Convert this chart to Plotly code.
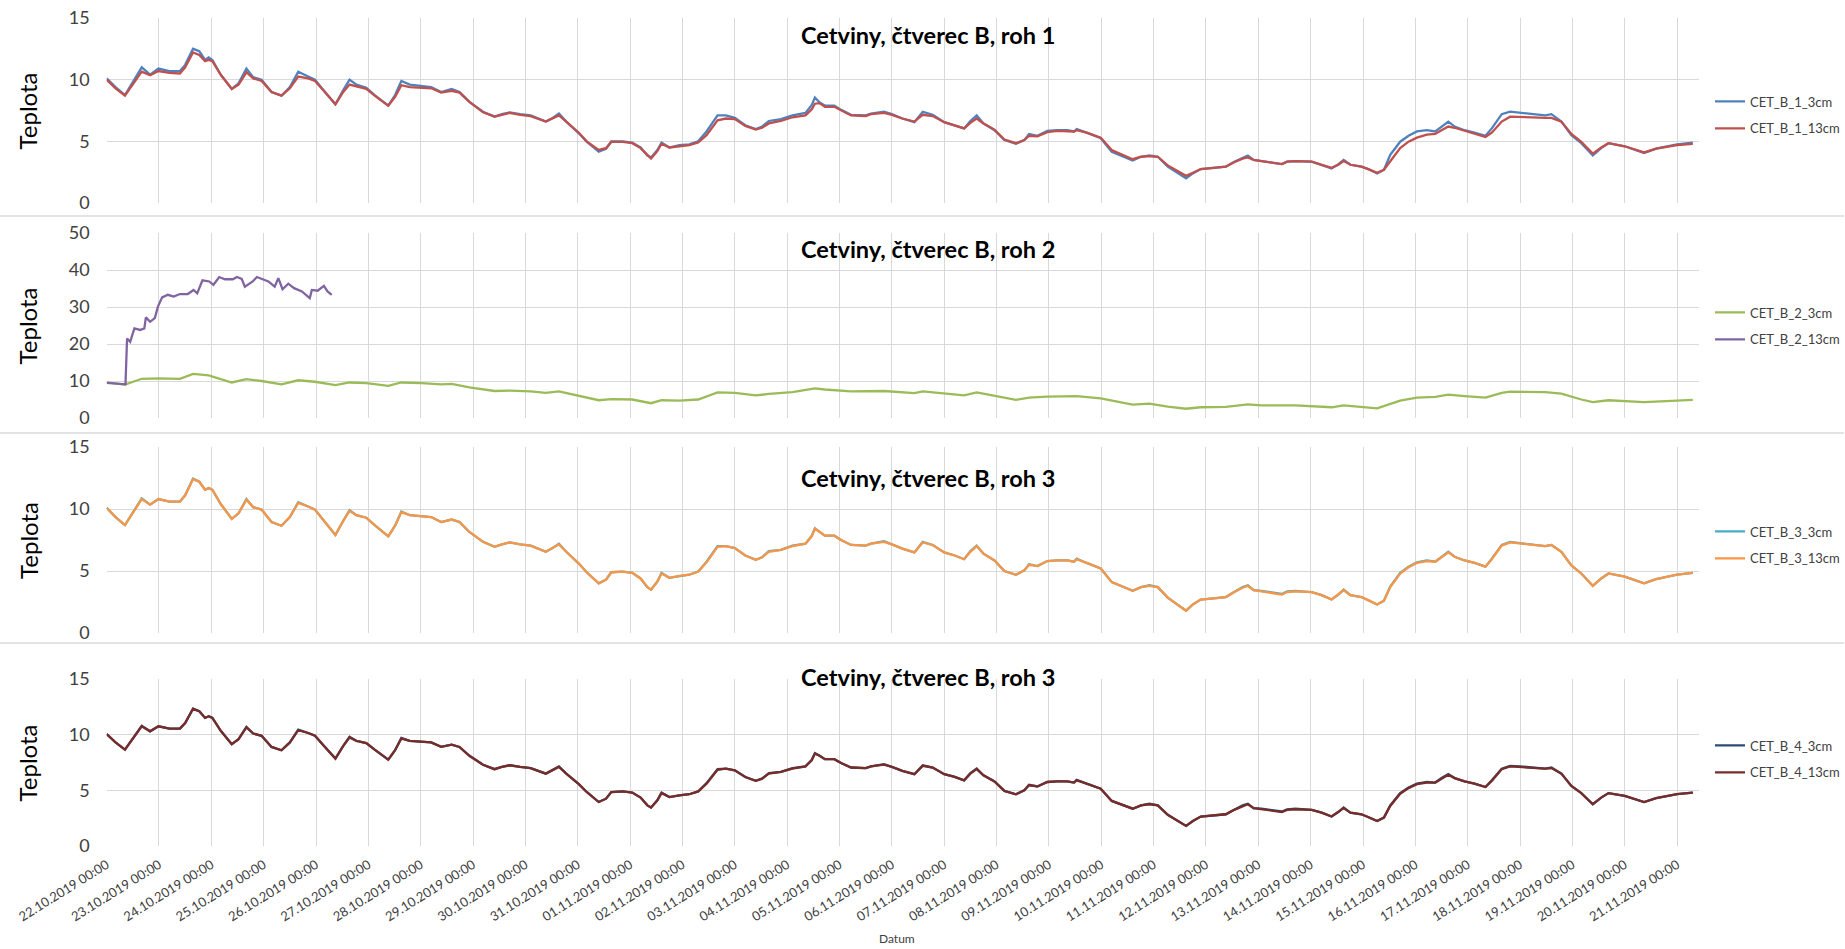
import pandas as pd
import plotly.graph_objects as go

START = "2019-10-22 00:00"
END_DAY = 30.42

# (day offset from 22.10.2019 00:00, temperature)
CET_B_1_3cm = [(0.00,10.1),(0.17,9.4),(0.35,8.75),(0.50,9.8),(0.67,11.0),(0.83,10.4),(0.99,10.9),(1.20,10.7),(1.40,10.7),(1.50,11.2),
 (1.65,12.5),(1.77,12.3),(1.88,11.6),(1.95,11.8),(2.02,11.6),(2.18,10.4),(2.39,9.25),(2.52,9.7),(2.67,10.9),(2.80,10.2),
 (2.96,10.0),(3.15,9.0),(3.34,8.7),(3.50,9.4),(3.66,10.65),(3.85,10.25),(3.98,10.0),(4.17,9.0),(4.37,8.0),(4.52,9.15),
 (4.64,10.0),(4.77,9.6),(4.96,9.35),(5.12,8.75),(5.38,7.9),(5.51,8.75),(5.63,9.9),(5.79,9.6),(6.01,9.5),(6.20,9.4),
 (6.39,9.0),(6.59,9.25),(6.74,9.0),(6.84,8.6),(6.93,8.2),(7.19,7.4),(7.41,7.0),(7.55,7.2),(7.70,7.35),(7.90,7.2),
 (8.10,7.1),(8.39,6.6),(8.52,6.9),(8.64,7.25),(8.78,6.6),(9.02,5.65),(9.17,4.97),(9.40,4.16),(9.54,4.4),(9.64,5.0),
 (9.86,5.0),(10.04,4.9),(10.20,4.5),(10.33,3.85),(10.40,3.7),(10.52,4.3),(10.60,4.9),(10.75,4.5),(10.94,4.7),(11.13,4.75),
 (11.30,5.0),(11.46,5.8),(11.67,7.1),(11.83,7.1),(12.00,6.9),(12.20,6.3),(12.40,6.0),(12.52,6.2),(12.65,6.65),(12.88,6.8),
 (13.10,7.1),(13.35,7.3),(13.47,7.95),(13.53,8.55),(13.62,8.15),(13.72,7.9),(13.90,7.9),(14.03,7.55),(14.22,7.15),(14.50,7.1),
 (14.60,7.25),(14.85,7.4),(15.00,7.2),(15.20,6.85),(15.43,6.55),(15.59,7.4),(15.78,7.15),(16.00,6.55),(16.20,6.3),(16.38,6.05),
 (16.50,6.65),(16.62,7.1),(16.75,6.45),(16.96,5.9),(17.15,5.1),(17.37,4.8),(17.53,5.1),(17.62,5.6),(17.78,5.45),(17.97,5.85),
 (18.16,5.9),(18.35,5.9),(18.48,5.8),(18.53,6.0),(18.72,5.7),(18.99,5.25),(19.20,4.15),(19.60,3.45),(19.76,3.75),(19.92,3.85),
 (20.08,3.75),(20.27,2.95),(20.62,2.0),(20.75,2.4),(20.90,2.75),(21.15,2.85),(21.38,2.95),(21.54,3.35),(21.70,3.7),(21.80,3.85),
 (21.91,3.5),(22.06,3.4),(22.25,3.25),(22.45,3.15),(22.55,3.35),(22.71,3.4),(23.02,3.35),(23.21,3.1),(23.40,2.8),(23.53,3.15),
 (23.63,3.5),(23.76,3.1),(23.97,2.95),(24.10,2.75),(24.27,2.4),(24.40,2.7),(24.52,3.9),(24.71,4.97),(24.87,5.45),(25.03,5.8),
 (25.22,5.9),(25.38,5.8),(25.50,6.2),(25.63,6.6),(25.75,6.2),(25.94,5.9),(26.13,5.7),(26.34,5.45),(26.46,6.05),(26.65,7.2),
 (26.81,7.4),(27.00,7.3),(27.23,7.2),(27.48,7.1),(27.60,7.2),(27.79,6.6),(27.98,5.5),(28.17,4.85),(28.39,3.85),(28.55,4.45),
 (28.69,4.85),(29.00,4.6),(29.37,4.05),(29.60,4.4),(30.00,4.75),(30.30,4.9)]

CET_B_1_13cm = [(0.00,10.0),(0.17,9.3),(0.35,8.7),(0.50,9.6),(0.67,10.65),(0.83,10.35),(0.99,10.7),(1.20,10.55),(1.40,10.5),(1.50,11.0),
 (1.65,12.2),(1.77,12.0),(1.88,11.5),(1.95,11.6),(2.02,11.5),(2.18,10.4),(2.39,9.25),(2.52,9.6),(2.67,10.6),(2.80,10.1),
 (2.96,9.9),(3.15,9.0),(3.34,8.7),(3.50,9.3),(3.66,10.25),(3.85,10.1),(3.98,9.9),(4.17,9.0),(4.37,8.0),(4.52,9.0),
 (4.64,9.6),(4.77,9.45),(4.96,9.25),(5.12,8.7),(5.38,7.9),(5.51,8.6),(5.63,9.55),(5.79,9.4),(6.01,9.35),(6.20,9.3),
 (6.39,8.95),(6.59,9.1),(6.74,8.95),(6.84,8.55),(6.93,8.2),(7.19,7.35),(7.41,7.0),(7.55,7.15),(7.70,7.3),(7.90,7.15),
 (8.10,7.05),(8.39,6.6),(8.52,6.85),(8.64,7.1),(8.78,6.6),(9.02,5.7),(9.17,5.0),(9.40,4.3),(9.54,4.45),(9.64,4.95),
 (9.86,4.95),(10.04,4.85),(10.20,4.45),(10.33,3.85),(10.40,3.6),(10.52,4.2),(10.60,4.8),(10.75,4.5),(10.94,4.6),(11.13,4.7),
 (11.30,4.9),(11.46,5.5),(11.67,6.7),(11.83,6.85),(12.00,6.8),(12.20,6.25),(12.40,5.95),(12.52,6.1),(12.65,6.45),(12.88,6.65),
 (13.10,6.95),(13.35,7.1),(13.47,7.6),(13.53,8.05),(13.62,8.1),(13.72,7.8),(13.90,7.8),(14.03,7.5),(14.22,7.1),(14.50,7.05),
 (14.60,7.2),(14.85,7.3),(15.00,7.15),(15.20,6.85),(15.43,6.6),(15.59,7.15),(15.78,7.05),(16.00,6.55),(16.20,6.3),(16.38,6.05),
 (16.50,6.5),(16.62,6.85),(16.75,6.45),(16.96,5.95),(17.15,5.15),(17.37,4.85),(17.53,5.1),(17.62,5.45),(17.78,5.4),(17.97,5.75),
 (18.16,5.85),(18.35,5.85),(18.48,5.8),(18.53,5.9),(18.72,5.7),(18.99,5.3),(19.20,4.3),(19.60,3.55),(19.76,3.75),(19.92,3.8),
 (20.08,3.75),(20.27,3.05),(20.62,2.2),(20.75,2.45),(20.90,2.75),(21.15,2.85),(21.38,2.95),(21.54,3.3),(21.70,3.6),(21.80,3.7),
 (21.91,3.5),(22.06,3.4),(22.25,3.25),(22.45,3.15),(22.55,3.35),(22.71,3.4),(23.02,3.35),(23.21,3.1),(23.40,2.85),(23.53,3.1),
 (23.63,3.4),(23.76,3.1),(23.97,2.95),(24.10,2.75),(24.27,2.45),(24.40,2.7),(24.52,3.35),(24.71,4.45),(24.87,4.97),(25.03,5.3),
 (25.22,5.55),(25.38,5.6),(25.50,5.9),(25.63,6.2),(25.75,6.1),(25.94,5.85),(26.13,5.65),(26.34,5.35),(26.46,5.7),(26.65,6.6),
 (26.81,7.0),(27.00,7.0),(27.23,6.95),(27.48,6.9),(27.60,6.9),(27.79,6.6),(27.98,5.6),(28.17,4.95),(28.39,4.0),(28.55,4.5),
 (28.69,4.85),(29.00,4.6),(29.37,4.1),(29.60,4.4),(30.00,4.7),(30.30,4.8)]

CET_B_2_3cm = [(0.00,9.6),(0.35,9.0),(0.67,10.6),(0.99,10.7),(1.40,10.6),(1.65,11.9),(1.95,11.5),(2.39,9.6),(2.67,10.5),(2.96,10.0),
 (3.34,9.1),(3.66,10.2),(3.98,9.8),(4.37,8.9),(4.64,9.6),(4.96,9.4),(5.38,8.7),(5.63,9.6),(6.01,9.4),(6.39,9.1),
 (6.59,9.2),(6.93,8.3),(7.41,7.3),(7.70,7.4),(8.10,7.2),(8.39,6.8),(8.64,7.2),(9.02,6.0),(9.40,4.8),(9.64,5.1),
 (10.04,5.0),(10.40,4.0),(10.60,4.8),(10.94,4.7),(11.30,5.0),(11.67,6.9),(12.00,6.8),(12.40,6.1),(12.65,6.5),(13.10,7.0),
 (13.53,8.0),(13.72,7.7),(14.22,7.2),(14.85,7.3),(15.43,6.7),(15.59,7.2),(16.00,6.6),(16.38,6.1),(16.62,6.9),(16.96,6.0),
 (17.37,4.9),(17.62,5.5),(17.97,5.8),(18.53,5.9),(18.99,5.3),(19.60,3.6),(19.92,3.9),(20.27,3.1),(20.62,2.5),(20.90,2.9),
 (21.38,3.0),(21.80,3.7),(22.06,3.4),(22.71,3.4),(23.40,2.9),(23.63,3.4),(23.97,3.0),(24.27,2.6),(24.71,4.7),(25.03,5.5),
 (25.38,5.7),(25.63,6.3),(25.94,5.9),(26.34,5.5),(26.65,6.8),(26.81,7.1),(27.48,7.0),(27.79,6.6),(28.17,5.0),(28.39,4.3),
 (28.69,4.8),(29.37,4.3),(30.00,4.7),(30.30,4.9)]

CET_B_2_13cm = [(0.00,9.5),(0.36,9.1),(0.39,21.5),(0.45,20.6),(0.53,24.2),(0.64,23.8),(0.72,24.2),(0.75,27.2),(0.83,26.0),(0.92,27.0),
 (0.98,30.1),(1.06,32.6),(1.17,33.3),(1.28,32.8),(1.40,33.5),(1.55,33.5),(1.66,34.6),(1.73,33.7),(1.83,37.2),(1.96,36.9),
 (2.04,36.0),(2.15,38.1),(2.26,37.5),(2.41,37.5),(2.49,38.1),(2.58,37.6),(2.64,35.5),(2.79,36.9),(2.87,38.1),(2.98,37.5),
 (3.09,36.9),(3.21,35.5),(3.28,37.8),(3.36,34.8),(3.47,36.3),(3.58,35.1),(3.73,34.2),(3.88,32.4),(3.92,34.6),(4.03,34.4),
 (4.15,35.7),(4.22,34.2),(4.30,33.3)]

CET_B_3_3cm = [(0.00,10.1),(0.17,9.35),(0.35,8.7),(0.50,9.7),(0.67,10.85),(0.83,10.35),(0.99,10.8),(1.20,10.6),(1.40,10.6),(1.50,11.1),
 (1.65,12.45),(1.77,12.2),(1.88,11.55),(1.95,11.7),(2.02,11.55),(2.18,10.4),(2.39,9.2),(2.52,9.65),(2.67,10.8),(2.80,10.15),
 (2.96,9.95),(3.15,8.95),(3.34,8.65),(3.50,9.35),(3.66,10.55),(3.85,10.2),(3.98,9.95),(4.17,8.95),(4.37,7.9),(4.52,9.05),
 (4.64,9.9),(4.77,9.5),(4.96,9.3),(5.12,8.7),(5.38,7.8),(5.51,8.65),(5.63,9.8),(5.79,9.5),(6.01,9.4),(6.20,9.35),
 (6.39,8.95),(6.59,9.15),(6.74,8.95),(6.84,8.55),(6.93,8.15),(7.19,7.35),(7.41,6.95),(7.55,7.15),(7.70,7.3),(7.90,7.15),
 (8.10,7.05),(8.39,6.55),(8.52,6.85),(8.64,7.2),(8.78,6.55),(9.02,5.6),(9.17,4.9),(9.40,4.0),(9.54,4.3),(9.64,4.9),
 (9.86,4.95),(10.04,4.85),(10.20,4.4),(10.33,3.7),(10.40,3.5),(10.52,4.15),(10.60,4.85),(10.75,4.45),(10.94,4.6),(11.13,4.7),
 (11.30,4.95),(11.46,5.75),(11.67,7.0),(11.83,7.0),(12.00,6.85),(12.20,6.25),(12.40,5.9),(12.52,6.1),(12.65,6.6),(12.88,6.7),
 (13.10,7.05),(13.35,7.2),(13.47,7.85),(13.53,8.45),(13.62,8.15),(13.72,7.85),(13.90,7.85),(14.03,7.5),(14.22,7.1),(14.50,7.05),
 (14.60,7.2),(14.85,7.4),(15.00,7.15),(15.20,6.8),(15.43,6.5),(15.59,7.35),(15.78,7.1),(16.00,6.5),(16.20,6.25),(16.38,5.95),
 (16.50,6.6),(16.62,7.05),(16.75,6.4),(16.96,5.85),(17.15,5.0),(17.37,4.7),(17.53,5.05),(17.62,5.55),(17.78,5.4),(17.97,5.8),
 (18.16,5.85),(18.35,5.85),(18.48,5.75),(18.53,6.0),(18.72,5.65),(18.99,5.2),(19.20,4.1),(19.60,3.4),(19.76,3.7),(19.92,3.85),
 (20.08,3.7),(20.27,2.85),(20.62,1.8),(20.75,2.3),(20.90,2.7),(21.15,2.8),(21.38,2.9),(21.54,3.3),(21.70,3.7),(21.80,3.85),
 (21.91,3.45),(22.06,3.4),(22.25,3.25),(22.45,3.15),(22.55,3.35),(22.71,3.4),(23.02,3.3),(23.21,3.05),(23.40,2.7),(23.53,3.1),
 (23.63,3.5),(23.76,3.05),(23.97,2.9),(24.10,2.65),(24.27,2.3),(24.40,2.6),(24.52,3.75),(24.71,4.85),(24.87,5.35),(25.03,5.7),
 (25.22,5.85),(25.38,5.75),(25.50,6.15),(25.63,6.55),(25.75,6.15),(25.94,5.85),(26.13,5.65),(26.34,5.35),(26.46,6.0),(26.65,7.1),
 (26.81,7.35),(27.00,7.25),(27.23,7.1),(27.48,7.0),(27.60,7.1),(27.79,6.55),(27.98,5.45),(28.17,4.8),(28.39,3.8),(28.55,4.4),
 (28.69,4.8),(29.00,4.55),(29.37,4.0),(29.60,4.35),(30.00,4.7),(30.30,4.85)]

CET_B_3_13cm = [(0.00,10.1),(0.17,9.35),(0.35,8.7),(0.50,9.7),(0.67,10.8),(0.83,10.35),(0.99,10.8),(1.20,10.6),(1.40,10.6),(1.50,11.1),
 (1.65,12.4),(1.77,12.2),(1.88,11.55),(1.95,11.7),(2.02,11.55),(2.18,10.4),(2.39,9.2),(2.52,9.65),(2.67,10.75),(2.80,10.15),
 (2.96,9.95),(3.15,8.95),(3.34,8.65),(3.50,9.35),(3.66,10.5),(3.85,10.2),(3.98,9.95),(4.17,8.95),(4.37,7.9),(4.52,9.05),
 (4.64,9.85),(4.77,9.5),(4.96,9.3),(5.12,8.7),(5.38,7.8),(5.51,8.65),(5.63,9.75),(5.79,9.5),(6.01,9.4),(6.20,9.35),
 (6.39,8.95),(6.59,9.15),(6.74,8.95),(6.84,8.55),(6.93,8.15),(7.19,7.35),(7.41,6.95),(7.55,7.15),(7.70,7.3),(7.90,7.15),
 (8.10,7.05),(8.39,6.55),(8.52,6.85),(8.64,7.15),(8.78,6.55),(9.02,5.6),(9.17,4.9),(9.40,4.0),(9.54,4.3),(9.64,4.9),
 (9.86,4.95),(10.04,4.85),(10.20,4.4),(10.33,3.7),(10.40,3.5),(10.52,4.15),(10.60,4.8),(10.75,4.45),(10.94,4.6),(11.13,4.7),
 (11.30,4.95),(11.46,5.7),(11.67,6.95),(11.83,7.0),(12.00,6.85),(12.20,6.25),(12.40,5.9),(12.52,6.1),(12.65,6.55),(12.88,6.7),
 (13.10,7.0),(13.35,7.2),(13.47,7.8),(13.53,8.4),(13.62,8.15),(13.72,7.85),(13.90,7.85),(14.03,7.5),(14.22,7.1),(14.50,7.05),
 (14.60,7.2),(14.85,7.35),(15.00,7.15),(15.20,6.8),(15.43,6.5),(15.59,7.3),(15.78,7.1),(16.00,6.5),(16.20,6.25),(16.38,5.95),
 (16.50,6.55),(16.62,7.0),(16.75,6.4),(16.96,5.85),(17.15,5.0),(17.37,4.7),(17.53,5.05),(17.62,5.5),(17.78,5.4),(17.97,5.8),
 (18.16,5.85),(18.35,5.85),(18.48,5.75),(18.53,5.95),(18.72,5.65),(18.99,5.2),(19.20,4.1),(19.60,3.4),(19.76,3.7),(19.92,3.8),
 (20.08,3.7),(20.27,2.85),(20.62,1.8),(20.75,2.3),(20.90,2.7),(21.15,2.8),(21.38,2.9),(21.54,3.3),(21.70,3.65),(21.80,3.8),
 (21.91,3.45),(22.06,3.35),(22.25,3.2),(22.45,3.1),(22.55,3.3),(22.71,3.35),(23.02,3.3),(23.21,3.05),(23.40,2.7),(23.53,3.1),
 (23.63,3.45),(23.76,3.05),(23.97,2.9),(24.10,2.65),(24.27,2.3),(24.40,2.6),(24.52,3.7),(24.71,4.8),(24.87,5.3),(25.03,5.65),
 (25.22,5.8),(25.38,5.75),(25.50,6.1),(25.63,6.5),(25.75,6.15),(25.94,5.85),(26.13,5.65),(26.34,5.35),(26.46,5.95),(26.65,7.05),
 (26.81,7.3),(27.00,7.2),(27.23,7.1),(27.48,7.0),(27.60,7.1),(27.79,6.55),(27.98,5.45),(28.17,4.8),(28.39,3.8),(28.55,4.4),
 (28.69,4.8),(29.00,4.55),(29.37,4.0),(29.60,4.35),(30.00,4.7),(30.30,4.85)]

CET_B_4_3cm = [(0.00,10.05),(0.17,9.3),(0.35,8.65),(0.50,9.65),(0.67,10.8),(0.83,10.3),(0.99,10.75),(1.20,10.55),(1.40,10.55),(1.50,11.05),
 (1.65,12.35),(1.77,12.1),(1.88,11.5),(1.95,11.65),(2.02,11.5),(2.18,10.35),(2.39,9.15),(2.52,9.6),(2.67,10.7),(2.80,10.1),
 (2.96,9.9),(3.15,8.9),(3.34,8.6),(3.50,9.3),(3.66,10.45),(3.85,10.15),(3.98,9.9),(4.17,8.9),(4.37,7.85),(4.52,9.0),
 (4.64,9.8),(4.77,9.45),(4.96,9.25),(5.12,8.65),(5.38,7.75),(5.51,8.6),(5.63,9.7),(5.79,9.45),(6.01,9.35),(6.20,9.3),
 (6.39,8.9),(6.59,9.1),(6.74,8.9),(6.84,8.5),(6.93,8.1),(7.19,7.3),(7.41,6.9),(7.55,7.1),(7.70,7.25),(7.90,7.1),
 (8.10,7.0),(8.39,6.5),(8.52,6.8),(8.64,7.15),(8.78,6.5),(9.02,5.55),(9.17,4.85),(9.40,3.95),(9.54,4.25),(9.64,4.85),
 (9.86,4.9),(10.04,4.8),(10.20,4.35),(10.33,3.65),(10.40,3.45),(10.52,4.1),(10.60,4.8),(10.75,4.4),(10.94,4.55),(11.13,4.65),
 (11.30,4.9),(11.46,5.65),(11.67,6.9),(11.83,6.95),(12.00,6.8),(12.20,6.2),(12.40,5.85),(12.52,6.05),(12.65,6.55),(12.88,6.65),
 (13.10,7.0),(13.35,7.15),(13.47,7.75),(13.53,8.35),(13.62,8.1),(13.72,7.8),(13.90,7.8),(14.03,7.45),(14.22,7.05),(14.50,7.0),
 (14.60,7.15),(14.85,7.35),(15.00,7.1),(15.20,6.75),(15.43,6.45),(15.59,7.25),(15.78,7.05),(16.00,6.45),(16.20,6.2),(16.38,5.9),
 (16.50,6.55),(16.62,6.95),(16.75,6.35),(16.96,5.8),(17.15,4.95),(17.37,4.65),(17.53,5.0),(17.62,5.5),(17.78,5.35),(17.97,5.75),
 (18.16,5.8),(18.35,5.8),(18.48,5.7),(18.53,5.95),(18.72,5.6),(18.99,5.15),(19.20,4.05),(19.60,3.35),(19.76,3.65),(19.92,3.8),
 (20.08,3.65),(20.27,2.8),(20.62,1.8),(20.75,2.25),(20.90,2.65),(21.15,2.75),(21.38,2.85),(21.54,3.25),(21.70,3.65),(21.80,3.8),
 (21.91,3.4),(22.06,3.35),(22.25,3.2),(22.45,3.1),(22.55,3.3),(22.71,3.35),(23.02,3.25),(23.21,3.0),(23.40,2.65),(23.53,3.05),
 (23.63,3.45),(23.76,3.0),(23.97,2.85),(24.10,2.6),(24.27,2.25),(24.40,2.55),(24.52,3.65),(24.71,4.75),(24.87,5.25),(25.03,5.6),
 (25.22,5.75),(25.38,5.7),(25.50,6.1),(25.63,6.45),(25.75,6.1),(25.94,5.8),(26.13,5.6),(26.34,5.3),(26.46,5.9),(26.65,6.95),
 (26.81,7.2),(27.00,7.15),(27.23,7.05),(27.48,6.95),(27.60,7.05),(27.79,6.5),(27.98,5.4),(28.17,4.75),(28.39,3.75),(28.55,4.35),
 (28.69,4.75),(29.00,4.5),(29.37,3.95),(29.60,4.3),(30.00,4.65),(30.30,4.8)]

CET_B_4_13cm = [(0.00,10.05),(0.17,9.3),(0.35,8.65),(0.50,9.65),(0.67,10.75),(0.83,10.3),(0.99,10.75),(1.20,10.55),(1.40,10.55),(1.50,11.05),
 (1.65,12.3),(1.77,12.1),(1.88,11.5),(1.95,11.65),(2.02,11.5),(2.18,10.35),(2.39,9.15),(2.52,9.6),(2.67,10.65),(2.80,10.1),
 (2.96,9.9),(3.15,8.9),(3.34,8.6),(3.50,9.3),(3.66,10.4),(3.85,10.15),(3.98,9.9),(4.17,8.9),(4.37,7.85),(4.52,9.0),
 (4.64,9.75),(4.77,9.45),(4.96,9.25),(5.12,8.65),(5.38,7.75),(5.51,8.6),(5.63,9.65),(5.79,9.45),(6.01,9.35),(6.20,9.3),
 (6.39,8.9),(6.59,9.1),(6.74,8.9),(6.84,8.5),(6.93,8.1),(7.19,7.3),(7.41,6.9),(7.55,7.1),(7.70,7.25),(7.90,7.1),
 (8.10,7.0),(8.39,6.5),(8.52,6.8),(8.64,7.1),(8.78,6.5),(9.02,5.55),(9.17,4.85),(9.40,3.95),(9.54,4.25),(9.64,4.85),
 (9.86,4.9),(10.04,4.8),(10.20,4.35),(10.33,3.65),(10.40,3.45),(10.52,4.1),(10.60,4.75),(10.75,4.4),(10.94,4.55),(11.13,4.65),
 (11.30,4.9),(11.46,5.6),(11.67,6.85),(11.83,6.95),(12.00,6.8),(12.20,6.2),(12.40,5.85),(12.52,6.05),(12.65,6.5),(12.88,6.65),
 (13.10,6.95),(13.35,7.15),(13.47,7.7),(13.53,8.3),(13.62,8.1),(13.72,7.8),(13.90,7.8),(14.03,7.45),(14.22,7.05),(14.50,7.0),
 (14.60,7.15),(14.85,7.3),(15.00,7.1),(15.20,6.75),(15.43,6.45),(15.59,7.2),(15.78,7.05),(16.00,6.45),(16.20,6.2),(16.38,5.9),
 (16.50,6.5),(16.62,6.9),(16.75,6.35),(16.96,5.8),(17.15,4.95),(17.37,4.65),(17.53,5.0),(17.62,5.45),(17.78,5.35),(17.97,5.75),
 (18.16,5.8),(18.35,5.8),(18.48,5.7),(18.53,5.9),(18.72,5.6),(18.99,5.15),(19.20,4.05),(19.60,3.35),(19.76,3.65),(19.92,3.75),
 (20.08,3.65),(20.27,2.8),(20.62,1.8),(20.75,2.25),(20.90,2.65),(21.15,2.75),(21.38,2.85),(21.54,3.25),(21.70,3.6),(21.80,3.75),
 (21.91,3.4),(22.06,3.3),(22.25,3.15),(22.45,3.05),(22.55,3.25),(22.71,3.3),(23.02,3.25),(23.21,3.0),(23.40,2.65),(23.53,3.05),
 (23.63,3.4),(23.76,3.0),(23.97,2.85),(24.10,2.6),(24.27,2.25),(24.40,2.55),(24.52,3.6),(24.71,4.7),(24.87,5.2),(25.03,5.55),
 (25.22,5.7),(25.38,5.7),(25.50,6.05),(25.63,6.4),(25.75,6.1),(25.94,5.8),(26.13,5.6),(26.34,5.3),(26.46,5.85),(26.65,6.9),
 (26.81,7.15),(27.00,7.1),(27.23,7.0),(27.48,6.95),(27.60,7.0),(27.79,6.5),(27.98,5.4),(28.17,4.75),(28.39,3.75),(28.55,4.35),
 (28.69,4.75),(29.00,4.5),(29.37,3.95),(29.60,4.3),(30.00,4.65),(30.30,4.8)]

base = pd.Timestamp(START)
def xs(series):
    return [base + pd.Timedelta(days=d) for d, _ in series]
def ys(series):
    return [v for _, v in series]

W, H = 1845, 949
FONT = "Lato, 'Open Sans', sans-serif"
TXT = "#404040"
GRID = "#D9D9D9"

panels = [
    # (title, ymax, dtick, top_px, bottom_px, series, title_px, legend_mid_px)
    ("Cetviny, čtverec B, roh 1", 15, 5, 18, 203,
     [("CET_B_1_3cm", CET_B_1_3cm, "#4F81BD"), ("CET_B_1_13cm", CET_B_1_13cm, "#C0504D")], 35, 115),
    ("Cetviny, čtverec B, roh 2", 50, 10, 233, 418,
     [("CET_B_2_3cm", CET_B_2_3cm, "#9BBB59"), ("CET_B_2_13cm", CET_B_2_13cm, "#8064A2")], 249, 326),
    ("Cetviny, čtverec B, roh 3", 15, 5, 447, 633,
     [("CET_B_3_3cm", CET_B_3_3cm, "#4BACC6"), ("CET_B_3_13cm", CET_B_3_13cm, "#F79646")], 478, 545),
    ("Cetviny, čtverec B, roh 3", 15, 5, 679, 846,
     [("CET_B_4_3cm", CET_B_4_3cm, "#2C4D75"), ("CET_B_4_13cm", CET_B_4_13cm, "#772C2A")], 677, 759),
]

fig = go.Figure()
layout = dict(
    width=W, height=H, margin=dict(l=0, r=0, t=0, b=0),
    paper_bgcolor="white", plot_bgcolor="white", template="none",
    font=dict(family=FONT, color=TXT), showlegend=True,
)
xdom = [106.7 / W, 1700 / W]
xrange = [base, base + pd.Timedelta(days=END_DAY)]
annotations = []
shapes = []
for i, (title, ymax, dt, top, bot, series, tpx, lpx) in enumerate(panels, start=1):
    sfx = "" if i == 1 else str(i)
    ydom = [1 - bot / H, 1 - top / H]
    layout["xaxis" + sfx] = dict(
        domain=xdom, anchor="y" + sfx, type="date", range=xrange,
        tick0=base, dtick=86400000, showgrid=True, gridcolor=GRID, gridwidth=1,
        zeroline=False, showline=False, ticks="", automargin=False,
        showticklabels=(i == 4), tickformat="%d.%m.%Y %H:%M", tickangle=-32,
        tickfont=dict(size=13, color=TXT, family=FONT), ticklabelstandoff=8,
        matches=None if i == 1 else "x",
    )
    layout["yaxis" + sfx] = dict(
        domain=ydom, anchor="x" + sfx, range=[0, ymax], dtick=dt, tick0=0,
        showgrid=True, gridcolor=GRID, gridwidth=1, zeroline=False, showline=False,
        ticks="", automargin=False, ticklabelstandoff=16,
        tickfont=dict(size=18, color=TXT, family=FONT),
    )
    lname = "legend" + sfx
    layout[lname] = dict(
        x=1711 / W, xanchor="left", y=1 - lpx / H, yanchor="middle",
        font=dict(size=13, color=TXT, family=FONT), bgcolor="rgba(0,0,0,0)",
        tracegroupgap=7, traceorder="grouped",
    )
    for name, data, color in series:
        fig.add_trace(go.Scatter(
            x=xs(data), y=ys(data), mode="lines", name=name,
            line=dict(color=color, width=2.3), xaxis="x" + sfx, yaxis="y" + sfx,
            legend=lname, legendgroup=name,
        ))
    annotations.append(dict(text="<b>" + title + "</b>", x=929 / W, y=1 - tpx / H,
                            xref="paper", yref="paper", showarrow=False,
                            xanchor="center", yanchor="middle",
                            font=dict(size=23.5, color="#000000", family=FONT)))
    annotations.append(dict(text="Teplota", x=28 / W, y=1 - (top + bot) / 2 / H,
                            xref="paper", yref="paper", showarrow=False, textangle=-90,
                            xanchor="center", yanchor="middle",
                            font=dict(size=24, color="#000000", family=FONT)))

for ypx in (216, 433, 643):
    shapes.append(dict(type="line", xref="paper", yref="paper", x0=0, x1=1,
                       y0=1 - ypx / H, y1=1 - ypx / H, line=dict(color="#E3E3E3", width=2)))

annotations.append(dict(text="Datum", x=897 / W, y=1 - 938 / H, xref="paper", yref="paper",
                        showarrow=False, xanchor="center", yanchor="middle",
                        font=dict(size=12, color=TXT, family=FONT)))
layout["annotations"] = annotations
layout["shapes"] = shapes
fig.update_layout(**layout)
fig.write_html("out.html", config={"displayModeBar": False},
               post_script="document.body.style.margin='0px';document.body.style.overflow='hidden';")
